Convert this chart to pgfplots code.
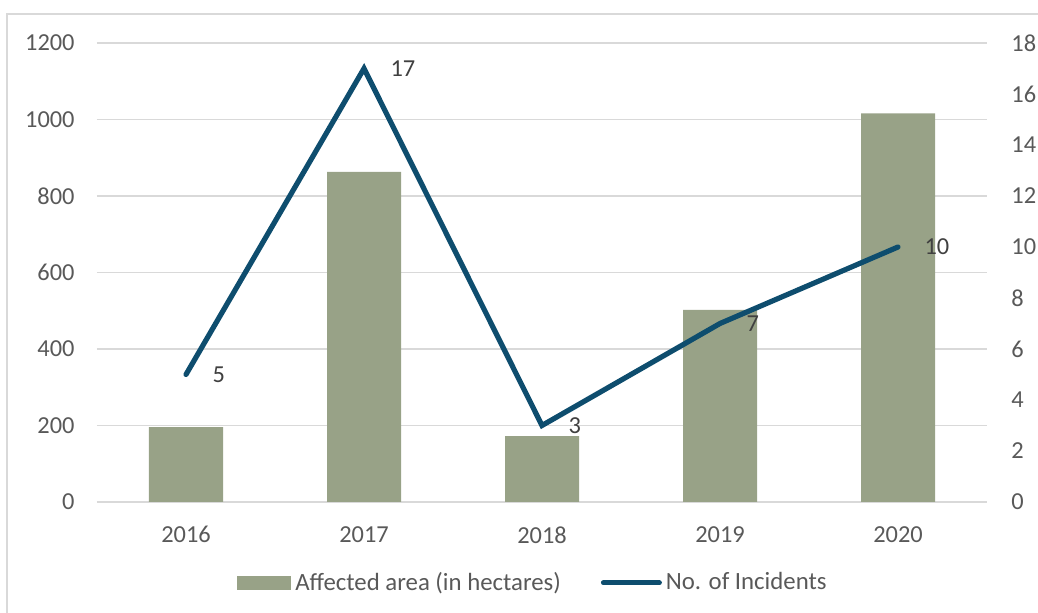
\documentclass[border=0pt]{standalone}
\usepackage{pgfplots}
\pgfplotsset{compat=1.18}
\usepackage{fontspec}
\setmainfont{Carlito}
\definecolor{barc}{HTML}{98A287}
\definecolor{linec}{HTML}{0E4D6E}
\definecolor{txt}{HTML}{595959}
\definecolor{lbl}{HTML}{404040}
\definecolor{gridc}{HTML}{D9D9D9}
\begin{document}
\begin{tikzpicture}
\useasboundingbox (-48.5pt,-55.5pt) rectangle (470.5pt,251pt);
\draw[gridc, line width=1.2pt] (-45pt,-60pt) -- (-45pt,244pt) -- (480pt,244pt);
\begin{axis}[
  at={(0pt,0pt)}, anchor=south west,
  scale only axis, width=445pt, height=229.5pt,
  xmin=-0.5, xmax=4.5, ymin=0, ymax=1200,
  xtick={0,1,2,3,4}, xticklabels={2016,2017,2018,2019,2020},
  ytick={0,200,...,1200},
  axis line style={draw=none}, tick style={draw=none},
  ymajorgrids, grid style={gridc, line width=0.8pt},
  /pgf/number format/assume math mode=true,
  /pgf/number format/1000 sep={},
  ticklabel style={font=\fontsize{12.2}{14}\selectfont, text=txt},
  yticklabel style={inner sep=0pt, xshift=-11pt},
  xticklabel style={inner sep=0pt, yshift=-12pt},
  legend style={at={(0.491,-0.176)}, anchor=center, draw=none, fill=none,
    legend columns=2, font=\fontsize{12.4}{14}\selectfont, text=txt,
    /tikz/every even column/.append style={column sep=18pt}},
]
\addplot[ybar, bar width=37pt, fill=barc, draw=none,
  legend image code/.code={\fill[barc] (0pt,-3.5pt) rectangle (27pt,3.5pt);}]
  coordinates {(0,196) (1,863) (2,172) (3,502) (4,1016)};
\addlegendentry{Affected area (in hectares)}
\addlegendimage{linec, line width=2.5pt, line cap=round,
  legend image code/.code={\draw[linec, line width=2.5pt, line cap=round] (0pt,0pt) -- (28pt,0pt);}}
\addlegendentry{No. of Incidents}
\end{axis}
\begin{axis}[
  at={(0pt,0pt)}, anchor=south west,
  scale only axis, width=445pt, height=229.5pt,
  xmin=-0.5, xmax=4.5, ymin=0, ymax=18,
  ytick={0,2,...,18},
  axis y line*=right, axis x line=none,
  axis line style={draw=none}, tick style={draw=none},
  /pgf/number format/assume math mode=true,
  ticklabel style={font=\fontsize{12.2}{14}\selectfont, text=txt},
  yticklabel style={inner sep=0pt, xshift=12pt, anchor=west},
]
\addplot[linec, line width=2.6pt, line join=miter, line cap=round,
  nodes near coords, point meta=explicit symbolic,
  every node near coord/.append style={anchor=west, inner sep=0pt, xshift=12pt,
    font=\fontsize{12.2}{14}\selectfont, text=lbl}]
  coordinates {(0,5)[5] (1,17)[17] (2,3)[3] (3,7)[7] (4,10)[10]};
\end{axis}
\end{tikzpicture}
\end{document}
